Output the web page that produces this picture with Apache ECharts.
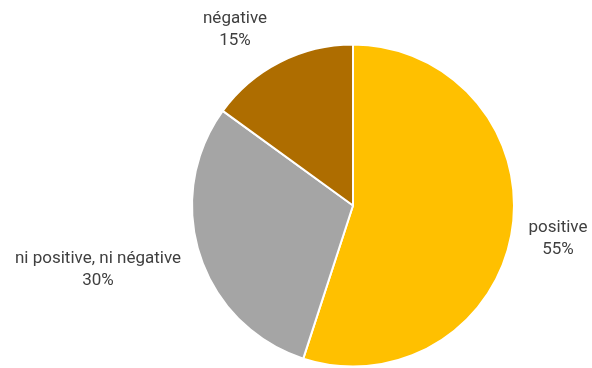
<!DOCTYPE html>
<html>
<head>
<meta charset="utf-8">
<script src="https://cdn.jsdelivr.net/npm/echarts@6/dist/echarts.min.js"></script>
<style>
  html, body { margin: 0; padding: 0; background: #fff; }
  #chart { width: 592px; height: 368px; }
</style>
</head>
<body>
<div id="chart"></div>
<script>
// données du camembert
const categories = ['positive', 'ni positive, ni négative', 'négative'];
const values = [55, 30, 15];
const colors = ['#FFC000', '#A5A5A5', '#AE6D00'];

// position des étiquettes (centre du bloc de texte)
const labelPos = [[558, 239], [98, 270], [235, 30]];

const chart = echarts.init(document.getElementById('chart'), null, { renderer: 'canvas' });

const option = {
  animation: false,
  series: [{
    type: 'pie',
    center: [353, 205.5],
    radius: [0, 161],
    startAngle: 90,
    clockwise: true,
    itemStyle: { borderColor: '#fff', borderWidth: 2 },
    label: {
      show: true,
      position: 'outside',
      alignTo: 'none',
      overflow: 'none',
      formatter: p => p.name + '\n' + p.value + '%',
      fontFamily: 'Roboto',
      fontSize: 17,
      lineHeight: 22,
      color: '#404040',
      align: 'center'
    },
    labelLine: { show: false },
    labelLayout: function (params) {
      const pos = labelPos[params.dataIndex];
      return { x: pos[0], y: pos[1], align: 'center', verticalAlign: 'middle', hideOverlap: false };
    },
    data: categories.map((c, i) => ({ name: c, value: values[i], itemStyle: { color: colors[i] } }))
  }]
};

chart.setOption(option);
</script>
</body>
</html>
